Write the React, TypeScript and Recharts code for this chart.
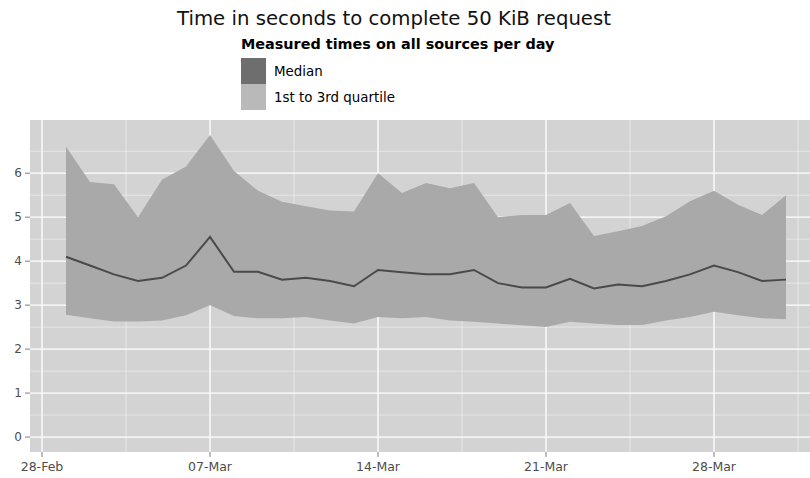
import { ComposedChart, Area, Line, XAxis, YAxis, CartesianGrid } from "recharts";

// days since 28 Feb (1 = 01 Mar ... 31 = 31 Mar)
const days = [
  1, 2, 3, 4, 5, 6, 7, 8, 9, 10, 11, 12, 13, 14, 15, 16,
  17, 18, 19, 20, 21, 22, 23, 24, 25, 26, 27, 28, 29, 30, 31,
];

const median = [
  4.1, 3.9, 3.7, 3.55, 3.62, 3.9, 4.55, 3.76, 3.76, 3.58, 3.62, 3.55, 3.43, 3.8, 3.75, 3.7,
  3.7, 3.8, 3.5, 3.4, 3.4, 3.6, 3.38, 3.47, 3.43, 3.55, 3.7, 3.9, 3.75, 3.55, 3.58,
];

const q1 = [
  2.78, 2.7, 2.63, 2.63, 2.65, 2.77, 3.0, 2.75, 2.7, 2.7, 2.73, 2.65, 2.58, 2.73, 2.7, 2.73,
  2.65, 2.62, 2.58, 2.54, 2.5, 2.62, 2.58, 2.55, 2.55, 2.65, 2.73, 2.85, 2.77, 2.7, 2.68,
];

const q3 = [
  6.6, 5.8, 5.75, 5.0, 5.85, 6.15, 6.87, 6.05, 5.6, 5.35, 5.25, 5.15, 5.13, 6.0, 5.55, 5.78,
  5.66, 5.78, 5.0, 5.05, 5.05, 5.32, 4.57, 4.68, 4.8, 5.02, 5.36, 5.6, 5.28, 5.05, 5.5,
];

const xTicks = [0, 7, 14, 21, 28];
const xTickLabels = ["28-Feb", "07-Mar", "14-Mar", "21-Mar", "28-Mar"];
const yTicks = [0, 1, 2, 3, 4, 5, 6];
const yMinor = [0.5, 1.5, 2.5, 3.5, 4.5, 5.5, 6.5];
const xMinor = [3.5, 10.5, 17.5, 24.5, 31.5];

const legendItems = [
  { label: "Median", color: "#6e6e6e" },
  { label: "1st to 3rd quartile", color: "#b9b9b9" },
];

const data = days.map((d, i) => ({
  day: d,
  median: median[i],
  range: [q1[i], q3[i]],
}));

const font = "'DejaVu Sans', sans-serif";

export default function App() {
  return (
    <div
      style={{
        position: "absolute",
        left: 0,
        top: 0,
        width: 810,
        height: 478,
        overflow: "hidden",
        background: "#fff",
      }}
    >
      <div
        style={{
          position: "absolute",
          top: 7,
          left: 0,
          width: 788,
          textAlign: "center",
          fontFamily: font,
          fontSize: 19.7,
          color: "#111",
        }}
      >
        Time in seconds to complete 50 KiB request
      </div>
      <div style={{ position: "absolute", top: 36, left: 241, fontFamily: font, color: "#000" }}>
        <div style={{ fontSize: 14.4, fontWeight: "bold", height: 22, whiteSpace: "nowrap" }}>
          Measured times on all sources per day
        </div>
        {legendItems.map((it) => (
          <div key={it.label} style={{ display: "flex", alignItems: "center", height: 26 }}>
            <div style={{ width: 25, height: 26, background: it.color }} />
            <span style={{ fontSize: 13.4, marginLeft: 8, whiteSpace: "nowrap" }}>{it.label}</span>
          </div>
        ))}
      </div>
      <ComposedChart
        width={822}
        height={478}
        data={data}
        margin={{ top: 120, right: 0, bottom: 0, left: 0 }}
      >
        <CartesianGrid
          fill="#d3d3d3"
          stroke="#f4f4f4"
          strokeWidth={0.6}
          horizontalValues={yMinor}
          verticalValues={xMinor}
        />
        <CartesianGrid
          stroke="#ffffff"
          strokeWidth={1.3}
          horizontalValues={yTicks}
          verticalValues={xTicks}
        />
        <XAxis
          type="number"
          dataKey="day"
          domain={[-0.5, 32.5]}
          ticks={xTicks}
          height={26}
          tickFormatter={(v) => xTickLabels[xTicks.indexOf(v)]}
          axisLine={false}
          tickLine={{ stroke: "#7f7f7f" }}
          tickSize={5}
          tickMargin={5}
          tick={{ fill: "#4d4d4d", fontSize: 12.5, fontFamily: font }}
          allowDataOverflow
        />
        <YAxis
          type="number"
          domain={[-0.34, 7.21]}
          ticks={yTicks}
          width={30}
          axisLine={false}
          tickLine={{ stroke: "#7f7f7f" }}
          tickSize={5}
          tickMargin={3}
          tick={{ fill: "#4d4d4d", fontSize: 12, fontFamily: font }}
          allowDataOverflow
        />
        <Area
          type="linear"
          dataKey="range"
          stroke="none"
          fill="#a9a9a9"
          fillOpacity={1}
          isAnimationActive={false}
          name="1st to 3rd quartile"
        />
        <Line
          type="linear"
          dataKey="median"
          stroke="#4a4a4a"
          strokeWidth={2}
          dot={false}
          isAnimationActive={false}
          name="Median"
        />
      </ComposedChart>
    </div>
  );
}
